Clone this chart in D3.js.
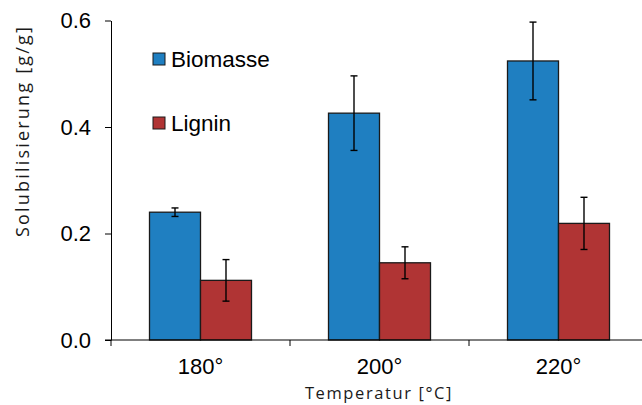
<!DOCTYPE html>
<html>
<head>
<meta charset="utf-8">
<script src="https://cdn.jsdelivr.net/npm/d3@7"></script>
<style>
  html, body { margin: 0; padding: 0; background: #fff; }
  svg { display: block; }
</style>
</head>
<body>
<svg id="chart" width="642" height="405"></svg>
<script>
// Solubilisation per temperature, mean with error (± value)
const categories = ["180°", "200°", "220°"];
const series = ["Biomasse", "Lignin"];
const biomasse = [0.240, 0.426, 0.524];
const biomasseErr = [0.008, 0.070, 0.073];
const lignin = [0.112, 0.145, 0.219];
const ligninErr = [0.039, 0.030, 0.049];
const yTicks = [0.0, 0.2, 0.4, 0.6];
const colors = { Biomasse: "#1f7fc1", Lignin: "#b03434" };

const svg = d3.select("#chart");
const plotLeft = 111, plotRight = 648, plotTop = 20.5, plotBottom = 340;

const y = d3.scaleLinear().domain([0, 0.6]).range([plotBottom, plotTop]);
const x0 = d3.scaleBand().domain(categories).range([plotLeft, plotRight]).padding(0);
const x1 = d3.scaleBand().domain(series).range([0, x0.bandwidth()])
  .paddingInner(0).paddingOuter(0.755);

const rows = categories.map((c, i) => ({
  cat: c,
  vals: [
    { s: "Biomasse", v: biomasse[i], e: biomasseErr[i] },
    { s: "Lignin", v: lignin[i], e: ligninErr[i] }
  ]
}));

// bars
const groups = svg.append("g").selectAll("g").data(rows).join("g")
  .attr("transform", d => `translate(${x0(d.cat)},0)`);

groups.selectAll("rect").data(d => d.vals).join("rect")
  .attr("x", d => x1(d.s))
  .attr("y", d => y(d.v))
  .attr("width", x1.bandwidth())
  .attr("height", d => y(0) - y(d.v))
  .attr("fill", d => colors[d.s])
  .attr("stroke", "#1a1a1a")
  .attr("stroke-width", 1.3);

// error bars
const eb = groups.selectAll("g.err").data(d => d.vals).join("g").attr("class", "err")
  .attr("stroke", "#000").attr("stroke-width", 1.4);
const cx = d => x1(d.s) + x1.bandwidth() / 2;
eb.append("line").attr("x1", cx).attr("x2", cx)
  .attr("y1", d => y(d.v + d.e)).attr("y2", d => y(d.v - d.e));
eb.append("line").attr("x1", d => cx(d) - 3.5).attr("x2", d => cx(d) + 3.5)
  .attr("y1", d => y(d.v + d.e)).attr("y2", d => y(d.v + d.e));
eb.append("line").attr("x1", d => cx(d) - 3.5).attr("x2", d => cx(d) + 3.5)
  .attr("y1", d => y(d.v - d.e)).attr("y2", d => y(d.v - d.e));

// y axis
const yAxis = svg.append("g").attr("transform", `translate(${plotLeft},0)`)
  .call(d3.axisLeft(y).tickValues(yTicks).tickFormat(d3.format(".1f"))
    .tickSize(6).tickPadding(14).tickSizeOuter(0));
yAxis.select(".domain").attr("stroke", "#000");
yAxis.selectAll(".tick line").attr("stroke", "#000");
yAxis.selectAll("text").attr("font-family", "Liberation Sans, Arial, sans-serif")
  .attr("font-size", 22).attr("fill", "#000");

// x axis: line with boundary ticks, labels at group centres
const xAxis = svg.append("g").attr("transform", `translate(0,${plotBottom})`);
xAxis.append("line").attr("x1", plotLeft - 6).attr("x2", plotRight)
  .attr("stroke", "#000").attr("stroke-width", 1);
xAxis.selectAll("line.tk").data(categories).join("line").attr("class", "tk")
  .attr("x1", d => x0(d)).attr("x2", d => x0(d))
  .attr("y1", 0).attr("y2", 6).attr("stroke", "#000");
xAxis.selectAll("text").data(categories).join("text")
  .attr("x", d => x0(d) + x0.bandwidth() / 2)
  .attr("y", 33.5)
  .attr("text-anchor", "middle")
  .attr("font-family", "Liberation Sans, Arial, sans-serif")
  .attr("font-size", 22)
  .text(d => d);

// axis titles
svg.append("text")
  .attr("x", 379).attr("y", 399)
  .attr("text-anchor", "middle")
  .attr("font-family", "Open Sans, sans-serif")
  .attr("font-size", 16.5)
  .attr("letter-spacing", 1.6)
  .attr("fill", "#1a1a1a")
  .text("Temperatur [°C]");

svg.append("text")
  .attr("transform", "translate(29,131) rotate(-90)")
  .attr("text-anchor", "middle")
  .attr("font-family", "Open Sans, sans-serif")
  .attr("font-size", 18)
  .attr("letter-spacing", 2.2)
  .attr("fill", "#1a1a1a")
  .text("Solubilisierung [g/g]");

// legend
const legend = svg.append("g").selectAll("g").data(series).join("g")
  .attr("transform", (d, i) => `translate(153,${53 + i * 64})`);
legend.append("rect").attr("width", 12).attr("height", 12)
  .attr("fill", d => colors[d]).attr("stroke", "#1a1a1a").attr("stroke-width", 1);
legend.append("text").attr("x", 18).attr("y", 14)
  .attr("font-family", "Liberation Sans, Arial, sans-serif")
  .attr("font-size", 22.5)
  .text(d => d);
</script>
</body>
</html>
